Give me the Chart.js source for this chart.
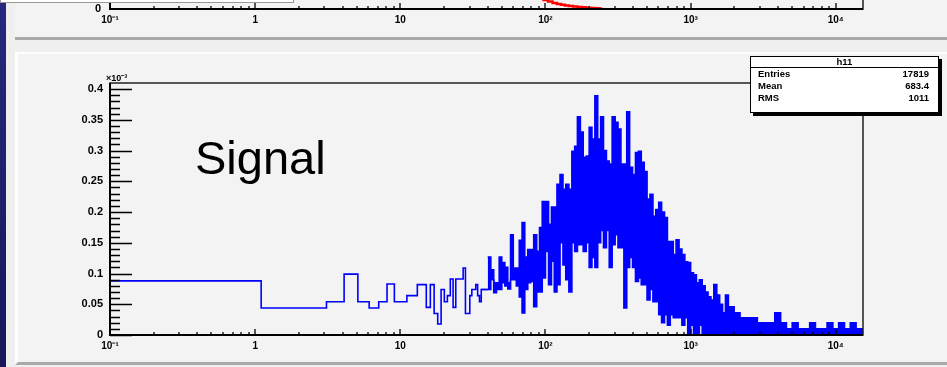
<!DOCTYPE html>
<html>
<head>
<meta charset="utf-8">
<script src="https://cdn.jsdelivr.net/npm/chart.js@4.4.1/dist/chart.umd.min.js"></script>
<style>
  body { margin: 0; width: 947px; height: 367px; overflow: hidden; background: #efefef; position: relative; font-family: "Liberation Sans", Arial, sans-serif; }
  #stripe { position: absolute; left: 0; top: 0; width: 6px; height: 367px; background: linear-gradient(#27277e, #17175a); }
  #padTop { position: absolute; left: 15px; top: 0; width: 932px; height: 37px; background: #f3f3f3; border-bottom: 3px solid #a9a9a9; }
  #padMain { position: absolute; left: 15px; top: 52px; width: 929px; height: 308px; background: #f3f3f3; border-top: 2px solid #fff; border-left: 3px solid #fff; border-bottom: 3px solid #a9a9a9; }
  #topWrap { position: absolute; left: 0; top: 0; width: 947px; height: 37px; overflow: hidden; }
  #topChart { position: absolute; left: 0; top: -289px; }
  #mainChart { position: absolute; left: 0; top: 0; }
  #oldBox { position: absolute; left: 0; top: -2px; width: 292px; height: 4px; background: #fff; border: 1px solid #999; border-top: none; }
  #expo { position: absolute; left: 106px; top: 72px; font: bold 9px "Liberation Sans", Arial, sans-serif; line-height: 12px; }
  #signal { position: absolute; left: 195px; top: 134px; font-size: 47px; line-height: 47px; color: #000; }
  #stats { position: absolute; left: 750px; top: 56px; width: 187px; height: 55px; background: #fff; border: 1px solid #000; box-shadow: 3px 3px 0 #000; font: bold 9.5px "Liberation Sans", Arial, sans-serif; }
  #stats .title { height: 10px; line-height: 10px; text-align: center; border-bottom: 1px solid #000; }
  #stats .row { height: 12px; line-height: 12px; padding: 0 9px 0 7px; display: flex; justify-content: space-between; }
</style>
</head>
<body>
<div id="stripe"></div>
<div id="padTop"></div>
<div id="padMain"></div>
<div id="topWrap"><canvas id="topChart" width="947" height="330"></canvas></div>
<div id="oldBox"></div>
<canvas id="mainChart" width="947" height="367"></canvas>
<div id="expo">×10⁻³</div>
<div id="signal">Signal</div>
<div id="stats">
  <div class="title" id="stTitle"></div>
  <div class="row"><span>Entries</span><span id="stEntries"></span></div>
  <div class="row"><span>Mean</span><span id="stMean"></span></div>
  <div class="row"><span>RMS</span><span id="stRms"></span></div>
</div>
<script>
// axis ticks
var xTickValues = [0.1, 1, 10, 100, 1000, 10000];
var xTickLabels = ['10⁻¹', '1', '10', '10²', '10³', '10⁴'];
var yTickValues = [0, 0.05, 0.1, 0.15, 0.2, 0.25, 0.3, 0.35, 0.4];
var yTickLabels = ['0', '0.05', '0.1', '0.15', '0.2', '0.25', '0.3', '0.35', '0.4'];

// stats box
var histName = 'h11';
var histEntries = '17819';
var histMean = '683.4';
var histRms = '1011';

// signal histogram, low part (values x1e-3), lower bin edges + last upper edge
var lowEdges = [0.1, 1.1, 3.1, 4.1, 5.1, 6.1, 7.1, 8.1, 9.1, 11.1, 13.1, 15.1, 16.1, 17.1, 18.1, 19.1,
  20.1, 21.1, 22.1, 23.1, 24.1, 27.1, 28.1, 30.1, 31.1, 33.1, 34.1, 35.1, 36.1, 40];
var lowValues = [0.088, 0.044, 0.054, 0.099, 0.054, 0.044, 0.054, 0.083, 0.054, 0.064, 0.082, 0.045,
  0.082, 0.035, 0.018, 0.074, 0.054, 0.064, 0.091, 0.045, 0.091, 0.109, 0.035, 0.064, 0.074, 0.082,
  0.064, 0.054, 0.074];

// dense part: many narrow bins, kept as top / bottom of the trace per group of bins
var denseEdges = [40, 42, 44, 46, 48, 50, 52.5, 55, 57.5, 60, 63, 66, 69, 72, 75.5, 79, 83, 87, 91, 95,
  100, 105, 110, 115, 120, 126, 132, 138, 145, 152, 159, 166, 174, 182, 191, 200, 209, 219, 229, 240,
  251, 263, 275, 288, 302, 316, 331, 347, 363, 380, 398, 417, 437, 457, 479, 501, 525, 550, 575, 603,
  631, 661, 692, 724, 759, 794, 832, 871, 912, 955, 1000, 1047, 1096, 1148, 1202, 1259, 1318, 1380, 1445, 1514,
  1585, 1660, 1738, 1820, 1905, 1995, 2190, 2400, 2630, 2880, 3160, 3470, 3800, 4170, 4570, 5010, 5500, 6030, 6610, 7240,
  7940, 8710, 9550, 10470, 11480, 12590, 13800, 15130, 15400];
var denseTop = [0.127, 0.106, 0.085, 0.085, 0.127, 0.118, 0.110, 0.085, 0.163, 0.109,
  0.109, 0.154, 0.183, 0.127, 0.139, 0.139, 0.163, 0.136, 0.175, 0.217,
  0.217, 0.180, 0.208, 0.208, 0.245, 0.261, 0.237, 0.245, 0.237, 0.299,
  0.307, 0.355, 0.330, 0.289, 0.291, 0.338, 0.319, 0.389, 0.319, 0.355,
  0.300, 0.283, 0.278, 0.355, 0.346, 0.335, 0.278, 0.278, 0.363, 0.273,
  0.261, 0.297, 0.299, 0.281, 0.266, 0.221, 0.229, 0.193, 0.204, 0.216,
  0.200, 0.191, 0.152, 0.152, 0.131, 0.155, 0.140, 0.131, 0.119, 0.118,
  0.101, 0.098, 0.085, 0.090, 0.080, 0.070, 0.062, 0.057, 0.082, 0.065,
  0.050, 0.036, 0.065, 0.046, 0.046, 0.036, 0.028, 0.028, 0.028, 0.020,
  0.020, 0.020, 0.036, 0.020, 0.010, 0.020, 0.010, 0.010, 0.020, 0.010,
  0.010, 0.020, 0.010, 0.020, 0.010, 0.020, 0.010, 0.010];
var denseBottom = [0.074, 0.090, 0.069, 0.074, 0.074, 0.085, 0.080, 0.075, 0.090, 0.090,
  0.080, 0.062, 0.036, 0.074, 0.085, 0.087, 0.046, 0.070, 0.070, 0.093,
  0.136, 0.082, 0.120, 0.070, 0.082, 0.150, 0.114, 0.090, 0.070, 0.150,
  0.136, 0.147, 0.147, 0.136, 0.150, 0.110, 0.126, 0.110, 0.150, 0.170,
  0.142, 0.170, 0.110, 0.147, 0.163, 0.142, 0.142, 0.044, 0.110, 0.126,
  0.110, 0.087, 0.093, 0.082, 0.082, 0.057, 0.074, 0.054, 0.054, 0.033,
  0.020, 0.033, 0.016, 0.033, 0.028, 0.028, 0.028, 0.016, 0.028, 0,
  0.016, 0, 0, 0.016, 0, 0, 0, 0, 0, 0,
  0, 0, 0, 0, 0, 0, 0, 0, 0, 0,
  0, 0, 0, 0, 0, 0, 0, 0, 0, 0,
  0, 0, 0, 0, 0, 0, 0, 0];

// pad above: only the bottom of its red histogram shows
var redEdges = [70, 80, 90, 97, 104, 112, 120, 128, 136, 145, 155, 166, 178, 190, 204, 218, 232, 246];
var redValues = [0.09, 0.07, 0.05, 0.036, 0.03, 0.024, 0.02, 0.017, 0.014, 0.012, 0.01, 0.008, 0.007,
  0.005, 0.004, 0.003, 0.002];

document.getElementById('stTitle').textContent = histName;
document.getElementById('stEntries').textContent = histEntries;
document.getElementById('stMean').textContent = histMean;
document.getElementById('stRms').textContent = histRms;

function steps(edges, values) {
  var pts = [];
  for (var i = 0; i < edges.length; i++) {
    pts.push({ x: edges[i], y: values[Math.min(i, values.length - 1)] });
  }
  return pts;
}

var FONT = '"Liberation Sans", Arial, sans-serif';
var PAD_BG = '#f3f3f3';
var xDecades = [0.1, 1, 10, 100, 1000, 10000];

// the mask starts one low bin earlier so it covers the left edge of the blue fill
var maskEdges = [lowEdges[lowEdges.length - 2]].concat(denseEdges);
var maskValues = [lowValues[lowValues.length - 1]].concat(denseBottom);

// ROOT style frame with inward ticks
var rootFrame = {
  id: 'rootFrame',
  afterDatasetsDraw: function (chart, args, opts) {
    var ctx = chart.ctx, a = chart.chartArea;
    var xs = chart.scales.x, ys = chart.scales.y;
    ctx.save();
    ctx.strokeStyle = '#222';
    ctx.lineWidth = 1.5;
    ctx.strokeRect(a.left, a.top, a.right - a.left, a.bottom - a.top);
    ctx.strokeStyle = '#000';
    ctx.lineWidth = 2;
    ctx.beginPath();
    ctx.moveTo(a.left, a.top);
    ctx.lineTo(a.left, a.bottom);
    ctx.lineTo(a.right, a.bottom);
    ctx.stroke();

    ctx.lineWidth = 1.3;
    ctx.beginPath();
    for (var d = 0; d < xDecades.length; d++) {
      for (var k = 1; k < 10; k++) {
        var v = xDecades[d] * k;
        if (v > xs.max) break;
        var px = Math.round(xs.getPixelForValue(v));
        ctx.moveTo(px, a.bottom);
        ctx.lineTo(px, a.bottom - (k === 1 ? 6 : 3));
      }
    }
    if (opts.yTicks) {
      for (var i = 0; i <= 40; i++) {
        var py = Math.round(ys.getPixelForValue(i / 100)) + 0.5;
        ctx.moveTo(a.left, py);
        ctx.lineTo(a.left + (i % 5 === 0 ? 22 : 10), py);
      }
    }
    ctx.stroke();
    ctx.restore();
  }
};

function xAxis() {
  return {
    type: 'logarithmic',
    min: 0.1,
    max: 15400,
    grid: { display: false, drawTicks: false },
    border: { display: false },
    afterBuildTicks: function (scale) {
      scale.ticks = xTickValues.map(function (v) { return { value: v }; });
    },
    afterFit: function (scale) { scale.height = 32; },
    ticks: {
      autoSkip: false,
      maxRotation: 0,
      padding: 5,
      color: '#000',
      font: { family: FONT, size: 10, weight: 'bold' },
      callback: function (value, index) { return xTickLabels[index]; }
    }
  };
}

// datasets are drawn last-index first: the top trace is filled down to 0,
// then the bottom trace paints the pad colour below it
new Chart(document.getElementById('mainChart'), {
  type: 'line',
  data: {
    datasets: [
      {
        label: 'h11 low',
        data: steps(lowEdges, lowValues),
        borderColor: '#0000ff',
        borderWidth: 1.6,
        stepped: true,
        pointRadius: 0,
        fill: false
      },
      {
        label: 'h11 bottom',
        data: steps(maskEdges, maskValues),
        borderColor: '#0000ff',
        backgroundColor: PAD_BG,
        borderWidth: 1.6,
        stepped: true,
        pointRadius: 0,
        fill: 'origin'
      },
      {
        label: 'h11 top',
        data: steps(denseEdges, denseTop),
        borderColor: '#0000ff',
        backgroundColor: '#0000ff',
        borderWidth: 1.6,
        stepped: true,
        pointRadius: 0,
        fill: 'origin'
      }
    ]
  },
  options: {
    responsive: false,
    animation: false,
    layout: { padding: { left: 0, right: 84, top: 83, bottom: 0 } },
    plugins: { legend: { display: false }, tooltip: { enabled: false }, rootFrame: { yTicks: true } },
    scales: {
      x: xAxis(),
      y: {
        type: 'linear',
        min: 0,
        max: 0.41,
        grid: { display: false, drawTicks: false },
        border: { display: false },
        afterBuildTicks: function (scale) {
          scale.ticks = yTickValues.map(function (v) { return { value: v }; });
        },
        afterFit: function (scale) { scale.width = 110; },
        ticks: {
          padding: 7,
          color: '#000',
          font: { family: FONT, size: 11, weight: 'bold' },
          callback: function (value, index) { return yTickLabels[index]; }
        }
      }
    }
  },
  plugins: [rootFrame]
});

new Chart(document.getElementById('topChart'), {
  type: 'line',
  data: {
    datasets: [{
      label: 'above',
      data: steps(redEdges, redValues),
      borderColor: '#ff0000',
      borderWidth: 2.5,
      stepped: true,
      pointRadius: 0,
      fill: false
    }]
  },
  options: {
    responsive: false,
    animation: false,
    layout: { padding: { left: 0, right: 84, top: 50, bottom: 0 } },
    plugins: { legend: { display: false }, tooltip: { enabled: false }, rootFrame: { yTicks: false } },
    scales: {
      x: xAxis(),
      y: {
        type: 'linear',
        min: 0,
        max: 1,
        grid: { display: false, drawTicks: false },
        border: { display: false },
        afterBuildTicks: function (scale) { scale.ticks = [{ value: 0 }]; },
        afterFit: function (scale) { scale.width = 110; },
        ticks: {
          padding: 9,
          color: '#000',
          font: { family: FONT, size: 11, weight: 'bold' },
          callback: function () { return '0'; }
        }
      }
    }
  },
  plugins: [rootFrame]
});
</script>
</body>
</html>
